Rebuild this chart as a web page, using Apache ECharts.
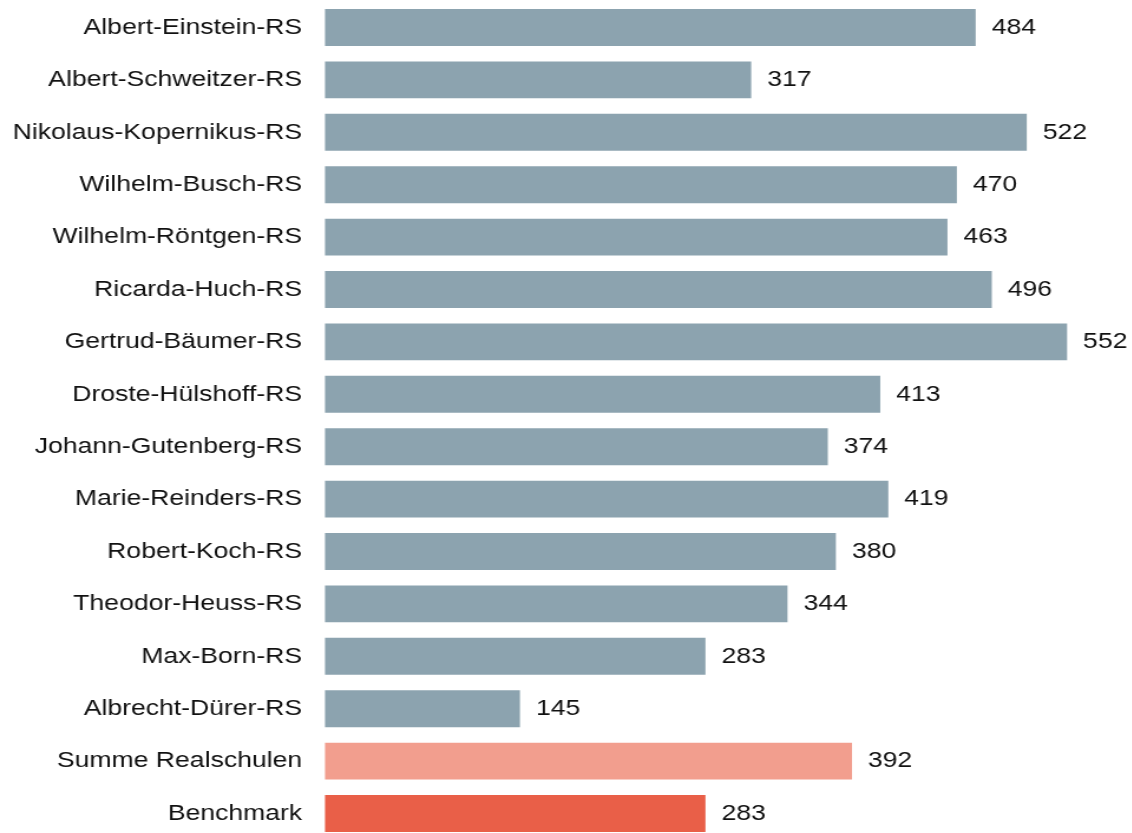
<!DOCTYPE html>
<html>
<head>
<meta charset="utf-8">
<title>Realschulen</title>
<script src="https://cdn.jsdelivr.net/npm/echarts@6/dist/echarts.min.js"></script>
<style>
  html, body { margin: 0; padding: 0; background: #ffffff; overflow: hidden; }
  #wrap { width: 1132px; height: 833px; overflow: hidden; }
  /* the chart is laid out narrower and widened, giving the broad lettering */
  #chart { height: 840px; transform-origin: 0 0; }
</style>
</head>
<body>
<div id="wrap"><div id="chart"></div></div>
<script>
// Schools, then the overall sum and the benchmark
const schools = [
  'Albert-Einstein-RS', 'Albert-Schweitzer-RS', 'Nikolaus-Kopernikus-RS',
  'Wilhelm-Busch-RS', 'Wilhelm-Röntgen-RS', 'Ricarda-Huch-RS',
  'Gertrud-Bäumer-RS', 'Droste-Hülshoff-RS', 'Johann-Gutenberg-RS',
  'Marie-Reinders-RS', 'Robert-Koch-RS', 'Theodor-Heuss-RS',
  'Max-Born-RS', 'Albrecht-Dürer-RS', 'Summe Realschulen', 'Benchmark'
];
const values = [484, 317, 522, 470, 463, 496, 552, 413, 374, 419, 380, 344, 283, 145, 392, 283];

const schoolColor = '#8ca3af';
const sumColor = '#f29e8e';
const benchmarkColor = '#e95f48';

function barColor(name) {
  if (name === 'Summe Realschulen') return sumColor;
  if (name === 'Benchmark') return benchmarkColor;
  return schoolColor;
}

const stretch = 1.18;          // horizontal widening of the whole chart
const font = '"Liberation Sans", Arial, sans-serif';
const axisMax = 600;
const pxPerUnit = 1.3478 / stretch;

const el = document.getElementById('chart');
el.style.width = (1132 / stretch) + 'px';
el.style.transform = 'scaleX(' + stretch + ')';

const chart = echarts.init(el);
chart.setOption({
  animation: false,
  backgroundColor: '#ffffff',
  grid: {
    left: 325 / stretch,
    top: 1.3,
    width: axisMax * pxPerUnit,
    height: 838.4,
    containLabel: false
  },
  xAxis: {
    type: 'value',
    min: 0,
    max: axisMax,
    show: false
  },
  yAxis: {
    type: 'category',
    data: schools,
    inverse: true,
    axisLine: { show: false },
    axisTick: { show: false },
    axisLabel: {
      margin: 23 / stretch,
      color: '#111111',
      fontFamily: font,
      fontSize: 22.5
    }
  },
  series: [{
    type: 'bar',
    barCategoryGap: '29.5%',
    data: values.map((v, i) => ({
      value: v,
      itemStyle: { color: barColor(schools[i]) }
    })),
    label: {
      show: true,
      position: 'right',
      distance: 16 / stretch,
      color: '#111111',
      fontFamily: font,
      fontSize: 22.5
    }
  }]
});
</script>
</body>
</html>
